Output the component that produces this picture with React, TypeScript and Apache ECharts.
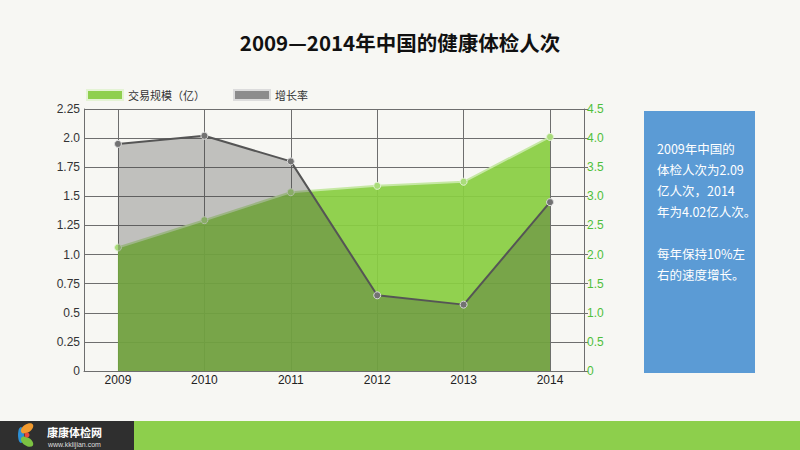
import React, { useEffect, useRef } from "react";
import * as echarts from "echarts";

const years = [2009, 2010, 2011, 2012, 2013, 2014];
const scaleValues = [2.12, 2.59, 3.07, 3.18, 3.25, 4.02]; // 交易规模（亿）, right axis
const growthValues = [1.95, 2.02, 1.8, 0.65, 0.57, 1.45]; // 增长率, left axis
const seriesNames = ["交易规模（亿）", "增长率"];
const sideLines = [
  "2009年中国的",
  "体检人次为2.09",
  "亿人次，2014",
  "年为4.02亿人次。",
  "",
  "每年保持10%左",
  "右的速度增长。",
];
const titleText = "2009—2014年中国的健康体检人次";

const fmt = (v: number) => {
  if (v === 0) return "0";
  if (Math.abs(v * 10 - Math.round(v * 10)) < 1e-6) return v.toFixed(1);
  return v.toFixed(2);
};

export default function App() {
  const ref = useRef<HTMLDivElement>(null);
  useEffect(() => {
    document.body.style.margin = "0";
    const chart = echarts.init(ref.current!, null, { renderer: "svg" });
    const lineColor = "#6e6e6e";
    const option: any = {
      animation: false,
      backgroundColor: "#f7f7f3",
      title: {
        text: titleText,
        left: "center",
        top: 27,
        textStyle: {
          fontSize: 20.5,
          fontWeight: "bold",
          color: "#111",
          fontFamily: "Noto Sans CJK SC",
        },
      },
      legend: {
        left: 81,
        top: 84,
        itemWidth: 36,
        itemHeight: 10,
        itemGap: 28,
        icon: "rect",
        textStyle: { fontSize: 11, color: "#333", fontFamily: "Noto Sans CJK SC" },
        data: [
          { name: seriesNames[0], itemStyle: { color: "#8fcf4f" } },
          { name: seriesNames[1], itemStyle: { color: "#8c8c8c" } },
        ],
      },
      grid: { left: 84, top: 109, width: 500, height: 262, containLabel: false },
      xAxis: {
        type: "value",
        min: 2009 - 0.393,
        max: 2014 + 0.393,
        axisLine: { show: true, onZero: false, lineStyle: { color: lineColor } },
        axisTick: { show: false, customValues: years },
        axisLabel: {
          customValues: years,
          formatter: (v: number) => String(v),
          color: "#222",
          fontSize: 12,
          margin: 3,
          fontFamily: "Liberation Sans",
        },
        splitLine: { show: true, lineStyle: { color: lineColor, width: 1 } },
      },
      yAxis: [
        {
          type: "value",
          min: 0,
          max: 2.25,
          interval: 0.25,
          position: "left",
          axisLine: { show: true, lineStyle: { color: lineColor } },
          axisTick: { show: false },
          axisLabel: {
            formatter: fmt,
            color: "#333",
            fontSize: 12,
            margin: 4,
            fontFamily: "Liberation Sans",
          },
          splitLine: { show: true, lineStyle: { color: lineColor, width: 1 } },
        },
        {
          type: "value",
          min: 0,
          max: 4.5,
          interval: 0.5,
          position: "right",
          axisLine: { show: true, lineStyle: { color: lineColor } },
          axisTick: { show: true, length: 4, lineStyle: { color: lineColor } },
          axisLabel: {
            formatter: fmt,
            color: "#4fbf3a",
            fontSize: 12,
            margin: 3,
            fontFamily: "Liberation Sans",
          },
          splitLine: { show: false },
        },
      ],
      series: [
        {
          name: seriesNames[0],
          type: "line",
          yAxisIndex: 1,
          z: 2,
          data: years.map((y, i) => [y, scaleValues[i]]),
          symbol: "circle",
          symbolSize: 7,
          itemStyle: { color: "#a9dc7a", borderColor: "#e4f3d4", borderWidth: 1 },
          lineStyle: { color: "#c6e8a4", width: 2 },
          areaStyle: { color: "rgba(137,205,66,0.93)", opacity: 1 },
        },
        {
          name: seriesNames[1],
          type: "line",
          yAxisIndex: 0,
          z: 3,
          data: years.map((y, i) => [y, growthValues[i]]),
          symbol: "circle",
          symbolSize: 7,
          itemStyle: { color: "#727272", borderColor: "#dcdcdc", borderWidth: 1 },
          lineStyle: { color: "#555", width: 2 },
          areaStyle: { color: "rgba(58,58,58,0.29)", opacity: 1 },
        },
      ],
      graphic: [
        {
          type: "rect",
          shape: { x: 644, y: 111, width: 111, height: 262 },
          style: { fill: "#5b9bd5" },
        },
        ...sideLines.map((t, i) => ({
          type: "text",
          x: 657,
          y: 148 + i * 21.1,
          style: {
            text: t,
            fill: "#fff",
            fontSize: 12.5,
            fontFamily: "Noto Sans CJK SC",
            verticalAlign: "middle",
          },
        })),
        {
          type: "rect",
          shape: { x: 0, y: 421, width: 134, height: 29 },
          style: { fill: "#2f2f2f" },
        },
        {
          type: "rect",
          shape: { x: 134, y: 421, width: 666, height: 29 },
          style: { fill: "#8dcf4c" },
        },
        {
          type: "group",
          x: 28,
          y: 435,
          children: [
            { type: "ellipse", shape: { cx: -7, cy: 0, rx: 3, ry: 8 }, style: { fill: "#2d8fd4" } },
            { type: "ellipse", rotation: 0.6, shape: { cx: 3, cy: -6, rx: 7, ry: 4 }, style: { fill: "#f29a2e" } },
            { type: "ellipse", rotation: -0.6, shape: { cx: 3, cy: 6, rx: 7, ry: 4 }, style: { fill: "#7cc242" } },
            { type: "circle", shape: { cx: -1, cy: 0, r: 2.5 }, style: { fill: "#e84c3d" } },
          ],
        },
        {
          type: "text",
          x: 47,
          y: 431.5,
          style: {
            text: "康康体检网",
            fill: "#fff",
            fontSize: 11,
            lineHeight: 11,
            fontWeight: "bold",
            fontFamily: "Noto Sans CJK SC",
            verticalAlign: "middle",
          },
        },
        {
          type: "text",
          x: 48,
          y: 444,
          style: {
            text: "www.kklijian.com",
            fill: "#ddd",
            fontSize: 7,
            lineHeight: 7,
            fontFamily: "Liberation Sans",
            verticalAlign: "middle",
          },
        },
      ],
    };
    chart.setOption(option);
    return () => chart.dispose();
  }, []);
  return (
    <div
      ref={ref}
      style={{ position: "fixed", left: 0, top: 0, width: 800, height: 450 }}
    />
  );
}
